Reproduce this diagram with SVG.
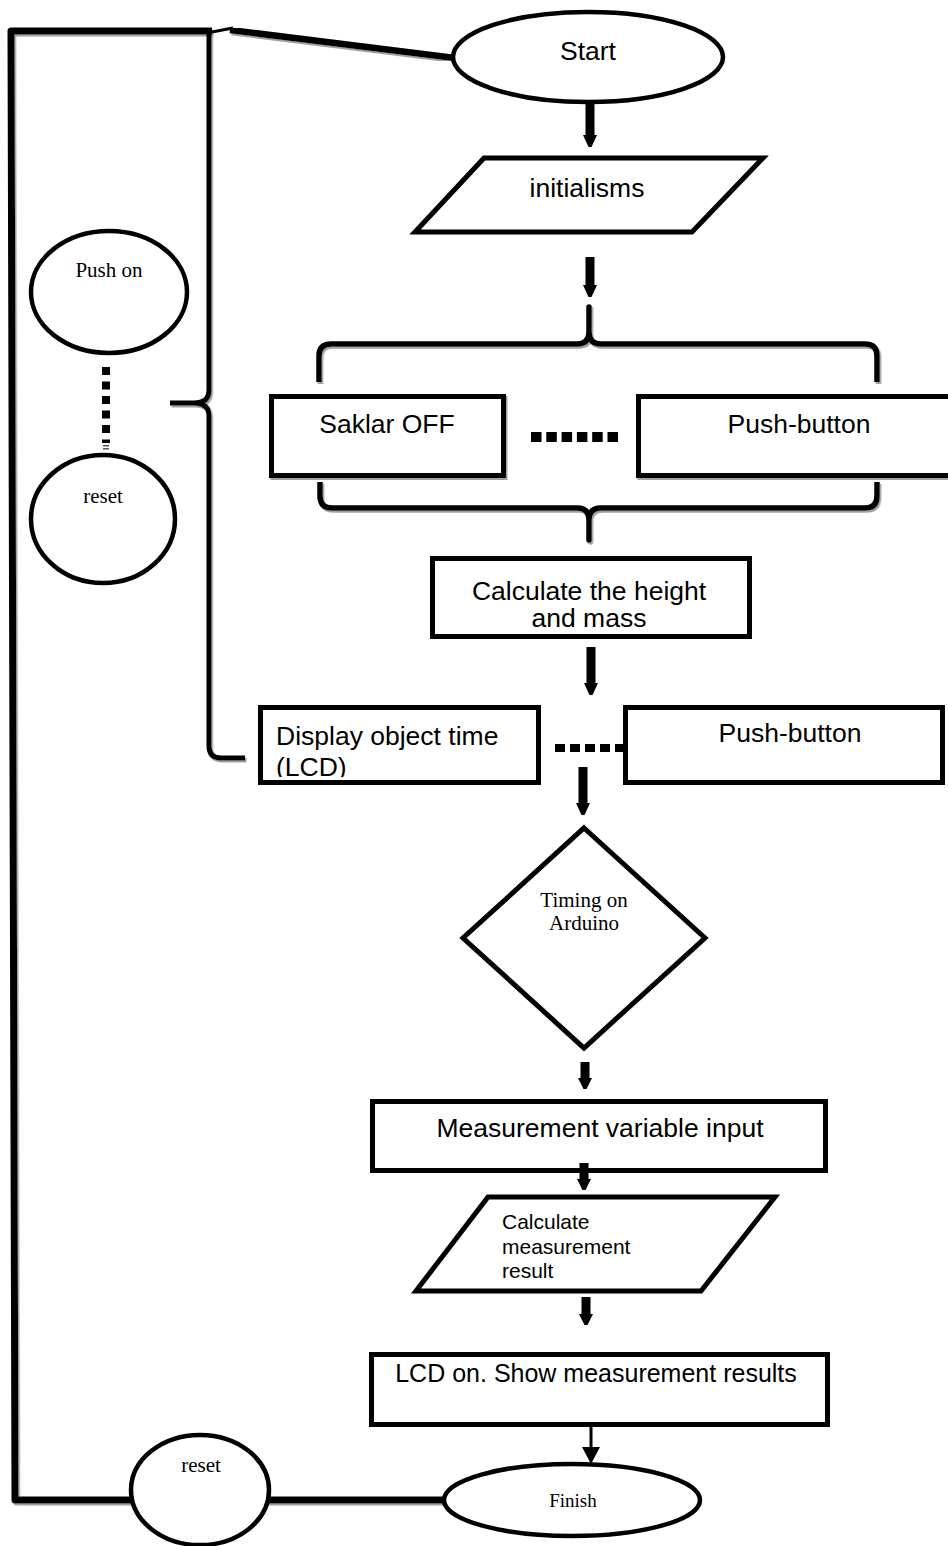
<svg xmlns="http://www.w3.org/2000/svg" width="948" height="1546" viewBox="0 0 948 1546">
<style>
.s{fill:#fff;stroke:#000;stroke-width:5}
.e{fill:#fff;stroke:#000;stroke-width:4.5}
.ln{fill:none;stroke:#000;stroke-linecap:butt;stroke-linejoin:round}
.ar{fill:#000}
.t{font-family:"Liberation Sans",Arial,sans-serif;font-size:26.5px;fill:#000}
.ts{font-family:"Liberation Serif","Times New Roman",serif;font-size:21px;fill:#000}
.m{text-anchor:middle}
.sh{filter:url(#shadow)}
</style>
<defs>
<filter id="shadow" x="-5%" y="-5%" width="110%" height="115%">
<feDropShadow dx="1.5" dy="2" stdDeviation="0.6" flood-color="#888" flood-opacity="0.8"/>
</filter>
<clipPath id="clipCalc"><rect x="430" y="556" width="322" height="71"/></clipPath>
<clipPath id="clipDisp"><rect x="258" y="705" width="283" height="72"/></clipPath>
</defs>

<g id="connectors">
<path class="ln sh" d="M212,31 H11 L15,1500 H443" stroke-width="7"/>
<path class="ln" d="M212,32 L233,28" stroke-width="3"/>
<path class="ln sh" d="M230,30 L455,58" stroke-width="6.5"/>
<path class="ln sh" d="M209,33 V390 Q209,403 194,403 H170 M194,403 Q209,403 209,416 V746 Q209,758 221,758 H245" stroke-width="5"/>
<path class="ln sh" d="M319,382 V356 Q319,344 331,344 H577 Q589,344 589,332 V307 V332 Q589,344 601,344 H865 Q877,344 877,356 V382" stroke-width="5.5"/>
<path class="ln sh" d="M320,482 V496 Q320,508 332,508 H577 Q589,508 589,520 V540 V520 Q589,508 601,508 H865 Q877,508 877,496 V482" stroke-width="5.5"/>
<line x1="531" y1="437" x2="619" y2="437" stroke="#000" stroke-width="10" stroke-dasharray="10.5 4.8"/>
<line x1="555" y1="748" x2="623" y2="748" stroke="#000" stroke-width="8" stroke-dasharray="10 5"/>
<line x1="106" y1="367" x2="106" y2="443" stroke="#000" stroke-width="8" stroke-dasharray="8 6.5"/>
<rect x="103" y="445" width="6" height="1.5" fill="#555"/>
<rect x="103" y="448" width="6" height="1.5" fill="#555"/>
<path class="ar" d="M585.5,100 H594.5 V135 H597 L591.5,147 H588.5 L583,135 H585.5 Z"/>
<path class="ar" d="M585.5,257 H594.5 V285 H597 L591.5,297 H588.5 L583,285 H585.5 Z"/>
<path class="ar" d="M586.5,647 H595.5 V683 H598 L592.5,695 H589.5 L584,683 H586.5 Z"/>
<path class="ar" d="M578.5,767 H587.5 V803 H590 L584.5,815 H581.5 L576,803 H578.5 Z"/>
<path class="ar" d="M580.5,1062 H589.5 V1078 H592 L586.5,1089 H583.5 L578,1078 H580.5 Z"/>
<path class="ar" d="M581.5,1297 H590.5 V1314 H593 L587.5,1325 H584.5 L579,1314 H581.5 Z"/>
<line x1="591" y1="1427" x2="591" y2="1450" stroke="#000" stroke-width="3"/>
<path class="ar" d="M582,1447 H600 L591,1464 Z"/>
</g>

<g id="start">
<ellipse class="e" cx="588" cy="57" rx="135" ry="45"/>
<text class="t m" x="588" y="60">Start</text>
</g>

<g id="initialisms">
<polygon class="s" points="484,158 763,158 692,232 415,232"/>
<text class="t m" x="587" y="197">initialisms</text>
</g>

<g id="push-on">
<ellipse class="e" cx="109" cy="292" rx="78" ry="61"/>
<text class="ts m" x="109" y="277">Push on</text>
</g>

<g id="reset-top">
<ellipse class="e" cx="103" cy="519" rx="72" ry="64"/>
<text class="ts m" x="103" y="503">reset</text>
</g>

<g id="saklar-off">
<rect class="s sh" x="271.5" y="396.5" width="232" height="79"/>
<text class="t m" x="387" y="433">Saklar OFF</text>
</g>

<g id="push-button-1">
<rect class="s sh" x="638.5" y="396.5" width="330" height="79"/>
<text class="t m" x="799" y="433">Push-button</text>
</g>

<g id="calc-height">
<rect class="s" x="432.5" y="558.5" width="317" height="78"/>
<g clip-path="url(#clipCalc)">
<text class="t m" x="589" y="600">Calculate the height</text>
<text class="t m" x="589" y="627">and mass</text>
</g>
</g>

<g id="display-time">
<rect class="s" x="260.5" y="707.5" width="278" height="75"/>
<g clip-path="url(#clipDisp)">
<text class="t" x="276" y="745">Display object time</text>
<text class="t" x="276" y="776">(LCD)</text>
</g>
</g>

<g id="push-button-2">
<rect class="s" x="625.5" y="707.5" width="317" height="75"/>
<text class="t m" x="790" y="742">Push-button</text>
</g>

<g id="timing">
<polygon class="s" points="584,828 705,938 584,1048 463,938"/>
<text class="ts m" x="584" y="907">Timing on</text>
<text class="ts m" x="584" y="930">Arduino</text>
</g>

<g id="measurement-input">
<rect class="s" x="372.5" y="1101.5" width="453" height="69"/>
<text class="t m" x="600" y="1137">Measurement variable input</text>
</g>

<g id="arrow-over-box">
<path class="ar" d="M579.5,1163 H588.5 V1179 H591 L585.5,1190 H582.5 L577,1179 H579.5 Z"/>
</g>

<g id="calc-result">
<polygon class="s" points="488,1197 775,1197 701,1291 416,1291"/>
<text class="t" x="502" y="1229" style="font-size:21px">Calculate</text>
<text class="t" x="502" y="1254" style="font-size:21px">measurement</text>
<text class="t" x="502" y="1278" style="font-size:21px">result</text>
</g>

<g id="lcd-on">
<rect class="s" x="371.5" y="1354.5" width="456" height="70"/>
<text class="t m" x="596" y="1382" style="font-size:25px">LCD on. Show measurement results</text>
</g>

<g id="reset-bottom">
<ellipse class="e" cx="200" cy="1490" rx="69" ry="55"/>
<text class="ts m" x="201" y="1472">reset</text>
</g>

<g id="finish">
<ellipse class="e" cx="572" cy="1500" rx="128" ry="36"/>
<text class="ts m" x="573" y="1507" style="font-size:19px">Finish</text>
</g>
</svg>
